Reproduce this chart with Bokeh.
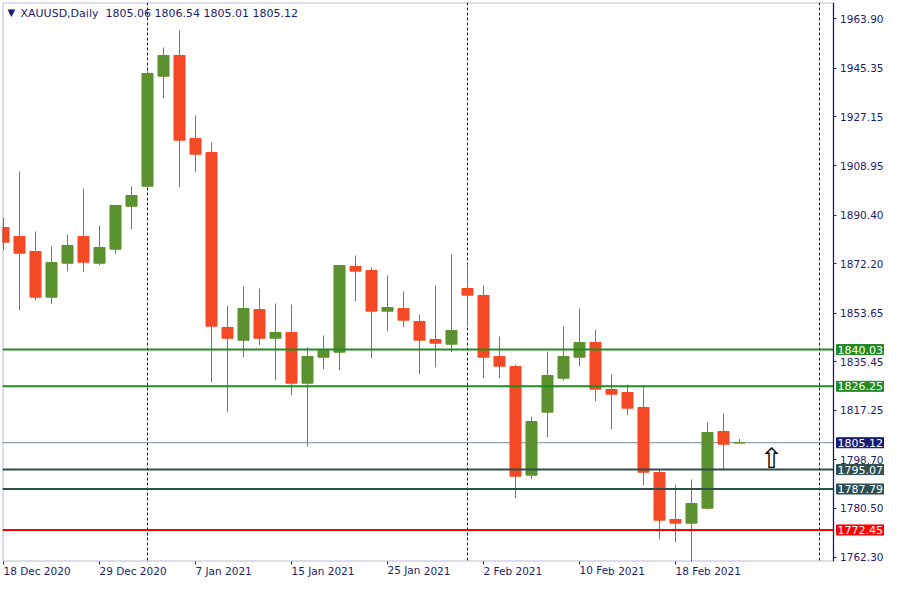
from datetime import datetime
from bokeh.plotting import figure
from bokeh.models import Span, Label, FixedTicker, PrintfTickFormatter, Range1d, ColumnDataSource, BoxAnnotation
from bokeh.core.properties import value
from bokeh.embed import file_html
from bokeh.resources import INLINE

# ---------------- data ----------------
symbol = "XAUUSD"
timeframe = "Daily"

dates = ["2020-12-18", "2020-12-21", "2020-12-22", "2020-12-23", "2020-12-24", "2020-12-28",
         "2020-12-29", "2020-12-30", "2020-12-31",
         "2021-01-04", "2021-01-05", "2021-01-06", "2021-01-07", "2021-01-08",
         "2021-01-11", "2021-01-12", "2021-01-13", "2021-01-14", "2021-01-15",
         "2021-01-18", "2021-01-19", "2021-01-20", "2021-01-21", "2021-01-22",
         "2021-01-25", "2021-01-26", "2021-01-27", "2021-01-28", "2021-01-29",
         "2021-02-01", "2021-02-02", "2021-02-03", "2021-02-04", "2021-02-05",
         "2021-02-08", "2021-02-09", "2021-02-10", "2021-02-11", "2021-02-12",
         "2021-02-15", "2021-02-16", "2021-02-17", "2021-02-18", "2021-02-19",
         "2021-02-22", "2021-02-23", "2021-02-24"]

opens = [1885.74, 1882.36, 1876.75, 1859.63, 1872.36, 1882.36, 1872.36, 1877.61, 1893.71, 1901.20,
         1942.40, 1950.15, 1919.07, 1913.83, 1848.28, 1843.53, 1855.02, 1844.27, 1846.41, 1827.42,
         1837.16, 1839.03, 1871.13, 1869.63, 1854.39, 1855.40, 1850.53, 1843.79, 1842.03, 1862.89,
         1860.27, 1837.42, 1833.68, 1792.96, 1816.56, 1829.29, 1837.16, 1842.66, 1825.06, 1823.94,
         1818.32, 1793.97, 1776.37, 1774.99, 1780.60, 1809.33, 1805.06]
highs = [1889.48, 1906.71, 1884.24, 1878.62, 1883.11, 1900.34, 1886.48, 1893.97, 1901.09, 1944.54,
         1953.15, 1959.52, 1927.68, 1917.57, 1856.52, 1863.64, 1862.89, 1857.27, 1856.90, 1840.79,
         1845.29, 1871.70, 1875.25, 1870.75, 1867.76, 1861.77, 1853.15, 1864.01, 1875.62, 1871.88,
         1864.01, 1844.91, 1834.42, 1814.95, 1839.29, 1848.66, 1855.40, 1847.53, 1830.68, 1826.93,
         1826.18, 1795.10, 1789.48, 1791.35, 1812.70, 1816.07, 1806.54]
lows = [1877.38, 1854.76, 1858.51, 1857.01, 1869.37, 1868.99, 1871.62, 1875.74, 1885.10, 1900.80,
        1934.16, 1900.83, 1906.45, 1827.80, 1816.56, 1837.16, 1841.65, 1828.54, 1822.93, 1803.71,
        1832.66, 1832.29, 1858.13, 1836.78, 1846.90, 1848.39, 1830.79, 1833.41, 1839.03, 1848.66,
        1829.29, 1829.29, 1784.35, 1791.47, 1807.20, 1828.54, 1833.79, 1820.68, 1810.19, 1815.44,
        1789.22, 1768.99, 1767.87, 1760.00, 1780.12, 1795.21, 1805.01]
closes = [1880.23, 1876.11, 1859.63, 1872.63, 1878.99, 1872.74, 1878.24, 1893.97, 1897.72, 1943.41,
          1950.15, 1918.43, 1913.19, 1848.77, 1844.27, 1855.40, 1844.27, 1846.41, 1827.42, 1837.42,
          1839.67, 1871.50, 1869.37, 1854.39, 1855.77, 1851.02, 1843.53, 1842.40, 1847.16, 1860.38,
          1837.16, 1833.79, 1792.59, 1813.08, 1830.30, 1837.42, 1842.66, 1825.17, 1823.30, 1818.06,
          1794.09, 1776.11, 1774.99, 1782.36, 1808.96, 1804.57, 1805.12]

price_ticks = [1963.90, 1945.35, 1927.15, 1908.95, 1890.40, 1872.20, 1853.65,
               1835.45, 1817.25, 1798.70, 1780.50, 1762.30]

level_prices = [1840.03, 1826.25, 1795.07, 1787.79, 1772.45]
level_kinds = ["resistance", "resistance", "support", "support", "stop"]

date_tick_every = 6
future_separator_index = 51
arrow_index = 48
arrow_price = 1799.4

# ---------------- styles / layout ----------------
UP = "#5B912F"
DOWN = "#F34A25"
NAVY = "#1A1A70"
TXT = "#1E1B6E"
kind_color = {"resistance": "#228B22", "support": "#2F4F4F", "stop": "#FF0000"}
BID_LINE = "#778899"
BID_BOX = "#191970"
FONT = "DejaVu Sans"

X0, X_AX, X1 = -0.0625, 51.875, 55.0625   # frame left, price-axis position, frame right
Y0, Y1 = 1760.64, 1970.0

n = len(closes)
idx = list(range(n))
up = [c >= o for o, c in zip(opens, closes)]


def pick(flag):
    sel = [i for i in idx if up[i] == flag]
    return ColumnDataSource(dict(x=sel, o=[opens[i] for i in sel], c=[closes[i] for i in sel],
                                 h=[highs[i] for i in sel], l=[lows[i] for i in sel]))


p = figure(frame_width=882, frame_height=559, output_backend="svg", toolbar_location=None,
           x_range=Range1d(X0, X1), y_range=Range1d(Y0, Y1), y_axis_location="left",
           min_border_left=2, min_border_right=0, min_border_top=2, min_border_bottom=0,
           background_fill_color="white", border_fill_color="white")
p.grid.visible = False
p.outline_line_color = None

# month separators (first bar of each new month) + the next one
parsed = [datetime.strptime(d, "%Y-%m-%d") for d in dates]
seps = [i for i in range(1, n) if parsed[i].month != parsed[i - 1].month] + [future_separator_index]
for s in seps:
    p.add_layout(Span(location=s, dimension="height", line_color=NAVY, line_width=1,
                      line_dash="3 2", level="underlay"))

# bid line (behind candles)
bid = closes[-1]
p.segment(x0=[X0], x1=[X_AX], y0=[bid], y1=[bid], line_color=BID_LINE, line_width=1)

# candles
for flag, col in ((True, UP), (False, DOWN)):
    src = pick(flag)
    p.segment(x0="x", y0="l", x1="x", y1="h", source=src, line_color=col, line_width=1)
    p.vbar(x="x", bottom="o", top="c", width=0.69, source=src, fill_color=col,
           line_color=col, line_width=1)

# horizontal level lines
p.segment(x0=[X0] * len(level_prices), x1=[X_AX] * len(level_prices), y0=level_prices,
          y1=level_prices, line_color=[kind_color[k] for k in level_kinds], line_width=2)

# arrow object
p.text(x=[arrow_index], y=[arrow_price], text=["\u21e7"], text_font=value(FONT),
       text_font_size="28px", text_align="center", text_baseline="middle",
       text_color="black")

# chart border (left, top, bottom)
p.add_layout(BoxAnnotation(left=X0, right=X_AX, bottom=Y0, top=Y1, fill_alpha=0,
                           line_color=NAVY, line_width=2))

# price axis, drawn at X_AX with labels to its right
p.yaxis.fixed_location = X_AX
p.yaxis.ticker = FixedTicker(ticks=price_ticks)
p.yaxis.formatter = PrintfTickFormatter(format="%.2f")
p.yaxis.major_tick_out = 0
p.yaxis.major_tick_in = 3
p.yaxis.minor_tick_line_color = None
p.yaxis.axis_line_color = NAVY
p.yaxis.major_tick_line_color = NAVY
p.yaxis.major_label_standoff = -50
p.yaxis.major_label_text_font = FONT
p.yaxis.major_label_text_font_size = "10.5px"
p.yaxis.major_label_text_color = TXT

xt = list(range(0, n, date_tick_every))
p.xaxis.ticker = FixedTicker(ticks=xt)
p.xaxis.major_label_overrides = {i: f"{parsed[i].day} {parsed[i].strftime('%b %Y')}" for i in xt}
p.xaxis.major_tick_out = 3
p.xaxis.major_tick_in = 0
p.xaxis.minor_tick_line_color = None
p.xaxis.axis_line_color = None
p.xaxis.major_tick_line_color = NAVY
p.xaxis.major_label_standoff = 6
p.xaxis.major_label_orientation = -1e-6
p.xaxis.major_label_text_font = FONT
p.xaxis.major_label_text_font_size = "10.5px"
p.xaxis.major_label_text_color = TXT


# price boxes next to the price axis
def price_box(price, color):
    p.add_layout(Label(x=X_AX, y=price, x_offset=3, text=f"{price:.2f}", text_font=FONT,
                       text_font_size="11px", text_color="white", text_align="left",
                       text_baseline="middle", background_fill_color=color,
                       border_line_color=color, padding=1))


for price, kind in zip(level_prices, level_kinds):
    price_box(price, kind_color[kind])
price_box(bid, BID_BOX)

# title
p.add_layout(Label(x=X0, y=Y1, x_offset=5, y_offset=-10, text="\u25bc", text_font=FONT,
                   text_font_size="10px", text_color=NAVY, text_baseline="middle"))
title = (f"{symbol},{timeframe} \u00a0{opens[-1]:.2f} {highs[-1]:.2f} "
         f"{lows[-1]:.2f} {closes[-1]:.2f}")
p.add_layout(Label(x=X0, y=Y1, x_offset=18, y_offset=-4, text=title, text_font=FONT,
                   text_font_size="11px", text_color=TXT, text_baseline="top"))

open("out.html", "w").write(file_html(p, INLINE))
